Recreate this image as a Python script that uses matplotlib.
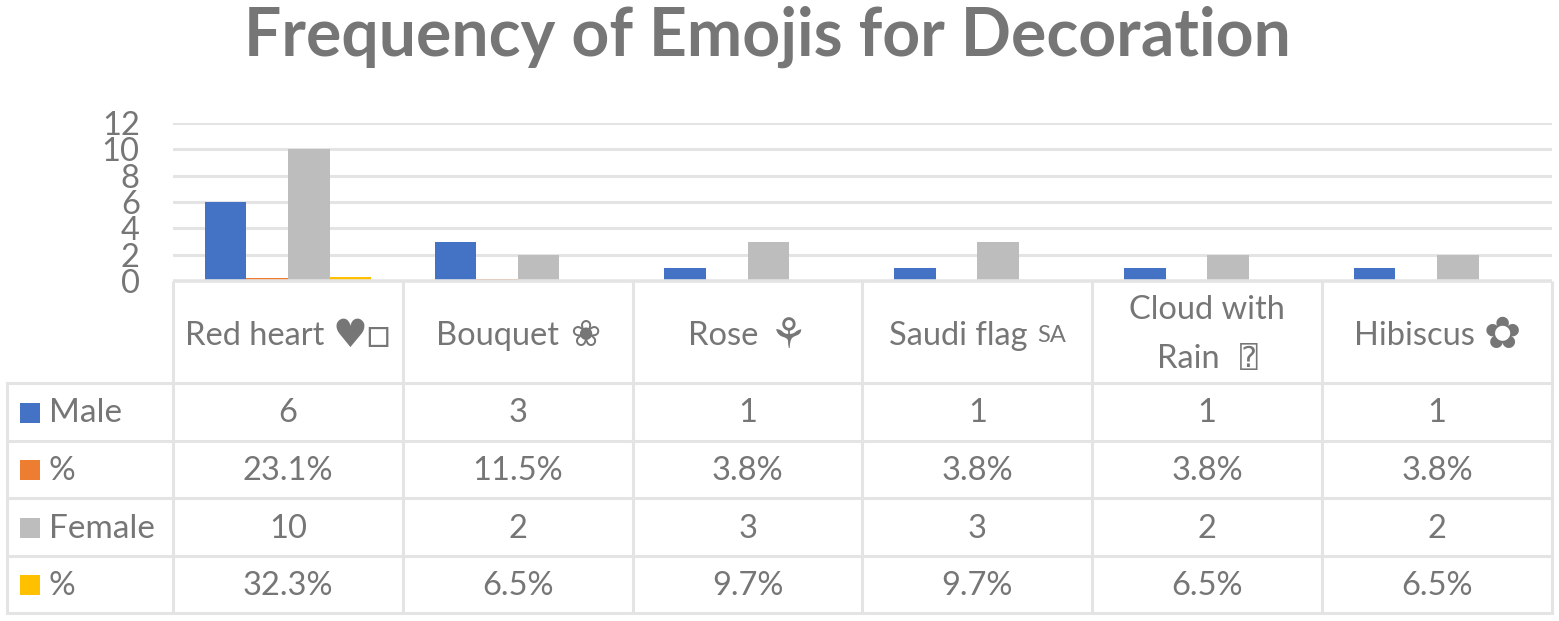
import numpy as np
import matplotlib
matplotlib.use('Agg')
import matplotlib.pyplot as plt
from matplotlib.patches import Rectangle
from matplotlib.transforms import blended_transform_factory

W, H = 1559, 621
DPI = 100
FONTS = ['Lato', 'DejaVu Sans', 'DejaVu Sans Mono']
GREY = '#767676'
LINE = '#e4e4e4'

categories = ['Red heart', 'Bouquet', 'Rose', 'Saudi flag', 'Cloud with\nRain', 'Hibiscus']
symbols = ['\u2665\u25a1', '\u2740', '\u2698', 'SA', '\u2370', '\u273f']
symbol_sizes = [28, 26, 30, 17, 21, 32]
symbol_gaps = [8, 11, 11, 9, 20, 9]
male = [6, 3, 1, 1, 1, 1]
male_pct = [0.231, 0.115, 0.038, 0.038, 0.038, 0.038]
female = [10, 2, 3, 3, 2, 2]
female_pct = [0.323, 0.065, 0.097, 0.097, 0.065, 0.065]
yticks = [0, 2, 4, 6, 8, 10, 12]

names = ['Male', '%', 'Female', '%']
colors = ['#4472c4', '#ed7d31', '#bdbdbd', '#ffc000']
series = [male, male_pct, female, female_pct]
cell_text = [[str(v) for v in male],
             ['%.1f%%' % (v * 100) for v in male_pct],
             [str(v) for v in female],
             ['%.1f%%' % (v * 100) for v in female_pct]]

plt.rcParams['font.family'] = FONTS

fig = plt.figure(figsize=(W / DPI, H / DPI), dpi=DPI)
renderer = fig.canvas.get_renderer()


def fx(px):
    return px / W


def fy(px):
    return 1 - px / H


fig.text(fx(767), fy(37), 'Frequency of Emojis for Decoration', color=GREY,
         fontsize=47.5, fontweight='bold', ha='center', va='center')

# ------ bars ------------------------------------------------------------------

left, right, top, bottom = 173, 1552, 123, 281
ax = fig.add_axes([fx(left), fy(bottom), (right - left) / W, (bottom - top) / H])

x = np.arange(len(categories))
bar_w = 0.181
for i in range(4):
    ax.bar(x + (i - 1.5) * bar_w, series[i], bar_w, color=colors[i], zorder=3)

ax.set_xlim(-0.5, len(categories) - 0.5)
ax.set_ylim(0, 12)
ax.set_yticks(yticks)
ax.set_xticks([])
ax.tick_params(axis='y', length=0, pad=24, labelsize=23.5, labelcolor=GREY)
ax.grid(True, axis='y', color=LINE, linewidth=2.2, zorder=0)
ax.set_axisbelow(True)
for s in ax.spines.values():
    s.set_visible(False)

# ------ data table below the axis ---------------------------------------------

row_y = [383, 441, 498, 556, 613]
trans = blended_transform_factory(ax.transData, fig.transFigure)
col_edges = np.arange(len(categories) + 1) - 0.5

ax.vlines(col_edges, fy(bottom), fy(row_y[-1]), transform=trans, color=LINE,
          linewidth=2.2, clip_on=False, zorder=1)
# the table's top line sits over the foot of the bars
ax.hlines(fy(bottom), -0.5, len(categories) - 0.5, transform=trans, color=LINE,
          linewidth=2.6, clip_on=False, zorder=4)

table_left = 7
for y in row_y:
    fig.add_artist(plt.Line2D([fx(table_left), fx(right)], [fy(y), fy(y)], color=LINE, linewidth=2.2))
fig.add_artist(plt.Line2D([fx(table_left), fx(table_left)], [fy(row_y[0]), fy(row_y[-1])], color=LINE, linewidth=2.2))

# header cells: name plus a larger symbol, centred together in the column
for i, name in enumerate(categories):
    lines = name.split('\n')
    yc = 336
    if len(lines) == 2:
        yc = 359
        ax.text(x[i], fy(310), lines[0], transform=trans, color=GREY, fontsize=23.5,
                ha='center', va='center', clip_on=False)
    t = fig.text(0, fy(yc), lines[-1], color=GREY, fontsize=23.5, ha='left', va='center')
    s = fig.text(0, fy(yc), symbols[i], color=GREY, fontsize=symbol_sizes[i], ha='left', va='center')
    w_t = t.get_window_extent(renderer).width
    w_s = s.get_window_extent(renderer).width
    cx = left + (i + 0.5) * (right - left) / len(categories)
    start = cx - (w_t + symbol_gaps[i] + w_s) / 2
    t.set_x(fx(start))
    s.set_x(fx(start + w_t + symbol_gaps[i]))

for r in range(4):
    yc = (row_y[r] + row_y[r + 1]) / 2 + 1.5
    fig.add_artist(Rectangle((fx(20), fy(yc + 9)), 20 / W, 20 / H, transform=fig.transFigure,
                             facecolor=colors[r], edgecolor='none'))
    fig.text(fx(49), fy(yc), names[r], color=GREY, fontsize=24, ha='left', va='center')
    for i in range(len(categories)):
        ax.text(x[i], fy(yc), cell_text[r][i], transform=trans, color=GREY, fontsize=23.5,
                ha='center', va='center', clip_on=False)

fig.savefig('out.png', dpi=DPI)
